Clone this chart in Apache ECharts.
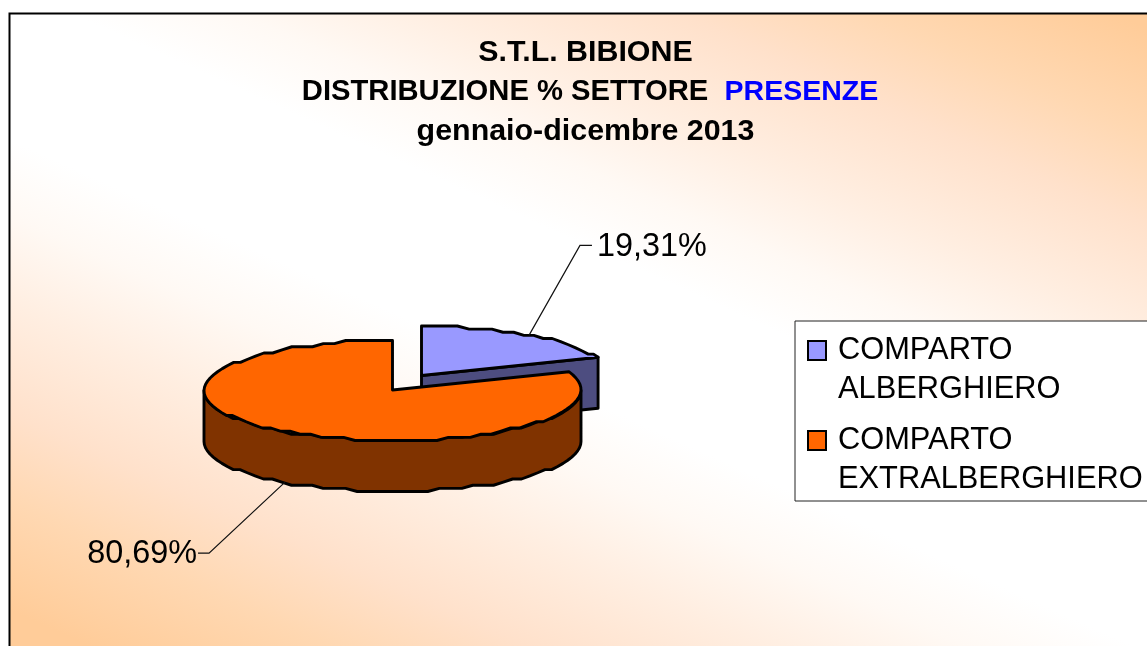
<!DOCTYPE html>
<html>
<head>
<meta charset="utf-8">
<style>html,body{margin:0;padding:0;background:#fff;overflow:hidden}#c{width:1147px;height:646px}</style>
<script src="https://cdn.jsdelivr.net/npm/echarts@6/dist/echarts.min.js"></script>
</head>
<body>
<div id="c"></div>
<script>
const categories = ['COMPARTO\nALBERGHIERO', 'COMPARTO\nEXTRALBERGHIERO'];
const values = [19.31, 80.69];
const titleLines = ['S.T.L. BIBIONE', 'DISTRIBUZIONE % SETTORE  ', 'PRESENZE', 'gennaio-dicembre 2013'];
const topColors = ['#9999ff', '#ff6600'];
const sideColors = ['#4d4d80', '#803300'];

const FONT = '"Liberation Sans", Arial, sans-serif';
const CX = 392.5, CY = 390.5, RX = 188.5, RY = 50, DEPTH = 51;
const EXPLODE = [[29, -14.5], [0, 0]];
const QY = 3.125, STEP = 3.6;
const total = values.reduce((a, b) => a + b, 0);

function startAngle(i) {
  let s = 0;
  for (let k = 0; k < i; k++) s += values[k] / total * 360;
  return s;
}
function pt(i, deg, drop) {
  const r = deg * Math.PI / 180;
  const ox = CX + EXPLODE[i][0], oy = CY + EXPLODE[i][1];
  const dy = -RY * Math.cos(r);
  return [ox + RX * Math.sin(r), oy + Math.round((dy + RY) / QY) * QY - RY + (drop || 0)];
}
function arc(i, a, b, drop) {
  const pts = [];
  const n = Math.max(1, Math.round(Math.abs(b - a) / STEP));
  for (let k = 0; k <= n; k++) pts.push(pt(i, a + (b - a) * k / n, drop));
  return pts;
}
const stroke = { stroke: '#000', lineWidth: 2.9, lineJoin: 'round' };
function poly(points, fill, z) {
  return { type: 'polygon', shape: { points }, style: Object.assign({ fill }, stroke), z2: z };
}
function leader(points, z) {
  return { type: 'polyline', shape: { points }, style: { stroke: '#111', lineWidth: 1.2, fill: null }, z2: z };
}
function labelEl(x, y, text, align) {
  return { type: 'text', x, y, style: { text, font: '32.4px ' + FONT, fill: '#000', align, verticalAlign: 'middle' }, z2: 20 };
}
function fmt(v) { return v.toFixed(2).replace('.', ',') + '%'; }

function renderSlice(i) {
  return function (params, api) {
    const v = api.value(0);
    const a = startAngle(i), b = a + v / total * 360;
    const mid = (a + b) / 2;
    const ox = CX + EXPLODE[i][0], oy = CY + EXPLODE[i][1];
    const apex = [ox, oy - 0.5];
    const children = [];
    if (i === 0) {
      const e = pt(i, b);
      children.push(poly([apex, e, [e[0], e[1] + DEPTH], [apex[0], apex[1] + DEPTH]], sideColors[i], 1));
      const m = pt(i, mid);
      children.push(leader([m, [m[0] + 51, m[1] - 90], [m[0] + 63, m[1] - 90]], 3));
      children.push(labelEl(m[0] + 68, m[1] - 88, fmt(v), 'left'));
    } else {
      const front = arc(i, 90, 270);
      const back = arc(i, 270, 90, DEPTH);
      children.push(poly(front.concat(back), sideColors[i], 1));
      const m = pt(i, mid, DEPTH);
      children.push(leader([m, [m[0] - 76, m[1] + 71], [m[0] - 87, m[1] + 71]], 3));
      children.push(labelEl(m[0] - 88, m[1] + 72, fmt(v), 'right'));
    }
    children.push(poly([apex].concat(arc(i, a, b)), topColors[i], 2));
    return { type: 'group', children };
  };
}

const chart = echarts.init(document.getElementById('c'), null, { renderer: 'canvas' });
const legendIcon = 'path://M0,0L0,0 M1,10H19V29H1Z M26,78L26,78';
chart.setOption({
  animation: false,
  backgroundColor: '#fff',
  title: {
    left: 580.5, top: 28, textAlign: 'center',
    text: '{a|' + titleLines[0] + '}\n{c|' + titleLines[1] + '}{b|' + titleLines[2] + '}\n{a|' + titleLines[3] + '}',
    textStyle: {
      rich: {
        a: { fontFamily: FONT, fontWeight: 'bold', fontSize: 30.4, lineHeight: 39.5, color: '#000' },
        c: { fontFamily: FONT, fontWeight: 'bold', fontSize: 29.2, lineHeight: 39.5, color: '#000', padding: [0, 0, 0, 9] },
        b: { fontFamily: FONT, fontWeight: 'bold', fontSize: 28.5, lineHeight: 39.5, color: '#0000ff' }
      }
    }
  },
  legend: {
    left: 795, top: 321, orient: 'vertical', align: 'left',
    padding: [9, 30, 1, 11],
    itemGap: 10, itemWidth: 26, itemHeight: 78,
    backgroundColor: '#fff', borderColor: '#222', borderWidth: 1,
    selectedMode: false,
    textStyle: { fontFamily: FONT, fontSize: 30.8, lineHeight: 39, color: '#000' },
    data: categories.map((name, i) => ({
      name, icon: legendIcon,
      itemStyle: { color: topColors[i], borderColor: '#000', borderWidth: 2 }
    }))
  },
  graphic: [{
    type: 'rect', z: -10, silent: true,
    shape: { x: 9.5, y: 13.5, width: 1170, height: 670 },
    style: {
      fill: new echarts.graphic.LinearGradient(369, 772, 779, -138, [
        { offset: 0, color: '#ffcc99' },
        { offset: 0.1, color: '#ffd8b2' },
        { offset: 0.18, color: '#ffe1cb' },
        { offset: 0.28, color: '#ffeee1' },
        { offset: 0.36, color: '#fff9f4' },
        { offset: 0.43, color: '#ffffff' },
        { offset: 0.57, color: '#ffffff' },
        { offset: 0.64, color: '#fff9f4' },
        { offset: 0.72, color: '#ffeee1' },
        { offset: 0.82, color: '#ffe1cb' },
        { offset: 0.9, color: '#ffd8b2' },
        { offset: 1, color: '#ffcc99' }
      ], true),
      stroke: '#000', lineWidth: 2
    }
  }],
  series: categories.map((name, i) => ({
    type: 'custom', name, coordinateSystem: 'none', silent: true,
    itemStyle: { color: topColors[i] },
    renderItem: renderSlice(i),
    data: [[values[i]]],
    z: 2 + i
  }))
});
</script>
</body>
</html>
